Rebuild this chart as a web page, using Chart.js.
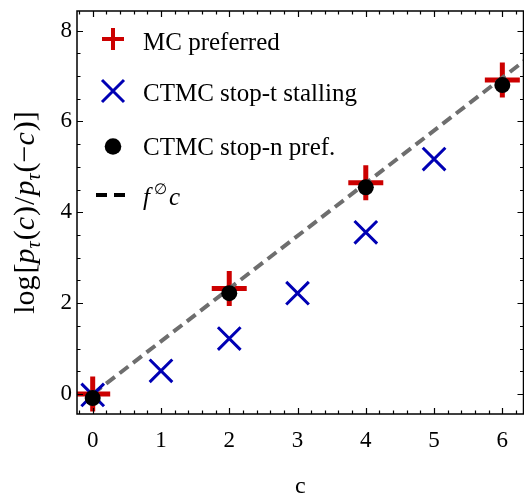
<!DOCTYPE html>
<html>
<head>
<meta charset="utf-8">
<script src="https://cdn.jsdelivr.net/npm/chart.js@4.4.0/dist/chart.umd.min.js"></script>
<style>
  html, body { margin: 0; padding: 0; background: #fff; }
  #wrap { width: 524px; height: 495px; position: relative; }
</style>
</head>
<body>
<div id="wrap"><canvas id="chart"></canvas></div>
<script>
// --- data ---
const mcX = [0, 2, 4, 6];
const mcY = [0, 2.32, 4.65, 6.91];

const stallX = [0, 1, 2, 3, 4, 5];
const stallY = [-0.02, 0.51, 1.22, 2.22, 3.56, 5.17];

const prefX = [0, 2, 4, 6];
const prefY = [-0.09, 2.22, 4.55, 6.80];

// f^∅ c reference line (slope ~1.16)
const lineX = [0, 6.5];
const lineY = [0, 7.54];

const xTicks = [0, 1, 2, 3, 4, 5, 6];
const yTicks = [0, 2, 4, 6, 8];

const RED = '#cc0000';
const BLUE = '#0000b4';
const SERIF = '"Liberation Serif", "DejaVu Serif", serif';

function toPoints(xs, ys) {
  return xs.map((x, i) => ({ x: x, y: ys[i] }));
}

// frame with inward major/minor ticks on all four sides
const framePlugin = {
  id: 'frame',
  afterDatasetsDraw(chart) {
    const { ctx, chartArea: a, scales } = chart;
    const sx = scales.x, sy = scales.y;
    ctx.save();
    ctx.strokeStyle = '#000';
    ctx.lineWidth = 1.2;
    ctx.beginPath();
    for (let v = -0.2; v <= sx.max + 1e-9; v += 0.2) {
      const major = Math.abs(v - Math.round(v)) < 1e-6;
      const len = major ? 6 : 3.5;
      const px = Math.round(sx.getPixelForValue(v)) + 0.5;
      ctx.moveTo(px, a.bottom); ctx.lineTo(px, a.bottom - len);
      ctx.moveTo(px, a.top); ctx.lineTo(px, a.top + len);
    }
    for (let v = 0; v <= sy.max + 1e-9; v += 0.5) {
      const major = Math.abs(v / 2 - Math.round(v / 2)) < 1e-6;
      const len = major ? 6 : 3.5;
      const py = Math.round(sy.getPixelForValue(v)) + 0.5;
      ctx.moveTo(a.left, py); ctx.lineTo(a.left + len, py);
      ctx.moveTo(a.right, py); ctx.lineTo(a.right - len, py);
    }
    ctx.stroke();
    ctx.lineWidth = 1.5;
    ctx.strokeRect(a.left, a.top, a.right - a.left, a.bottom - a.top);
    ctx.restore();
  }
};

// draws a run of [text, font, dy, dx] pieces starting at x
function drawPieces(ctx, pieces, x, y) {
  pieces.forEach(p => {
    ctx.font = p[1];
    x += p[3] || 0;
    ctx.fillText(p[0], x, y + (p[2] || 0));
    x += ctx.measureText(p[0]).width;
  });
}
function piecesWidth(ctx, pieces) {
  return pieces.reduce((w, p) => { ctx.font = p[1]; return w + (p[3] || 0) + ctx.measureText(p[0]).width; }, 0);
}

const textPlugin = {
  id: 'texts',
  afterDraw(chart) {
    const { ctx, chartArea: a } = chart;
    ctx.save();
    ctx.fillStyle = '#000';
    ctx.textBaseline = 'alphabetic';

    // x title
    ctx.font = '24px ' + SERIF;
    ctx.textAlign = 'center';
    ctx.fillText('c', (a.left + a.right) / 2, 493);
    ctx.textAlign = 'left';

    // y title: log[p_τ(c)/p_τ(−c)]
    const up = '30px ' + SERIF;
    const it = 'italic 30px ' + SERIF;
    const sub = 'italic 20px ' + SERIF;
    const yt = [
      ['log', up], ['[', up, 0, 2], ['p', it], ['τ', sub, 6], ['(', up, 0, 1], ['c', it], [')', up, 0, 1],
      ['/', up, 0, 1], ['p', it, 0, 1], ['τ', sub, 6], ['(', up, 0, 1], ['−', up], ['c', it], [')', up, 0, 1], [']', up]
    ];
    ctx.translate(34, (a.top + a.bottom) / 2);
    ctx.rotate(-Math.PI / 2);
    drawPieces(ctx, yt, -piecesWidth(ctx, yt) / 2, 0);
    const dpr = chart.currentDevicePixelRatio || 1;
    ctx.setTransform(dpr, 0, 0, dpr, 0, 0);

    // legend
    const mx = 113, tx = 143;
    const rows = [39, 91, 146.5, 195];
    const base = [50, 101, 154.5, 204.5];

    ctx.lineCap = 'butt';
    ctx.strokeStyle = RED; ctx.lineWidth = 4;
    ctx.beginPath();
    ctx.moveTo(mx - 11, rows[0]); ctx.lineTo(mx + 11, rows[0]);
    ctx.moveTo(mx, rows[0] - 11); ctx.lineTo(mx, rows[0] + 11);
    ctx.stroke();

    ctx.strokeStyle = BLUE; ctx.lineWidth = 3;
    ctx.beginPath();
    ctx.moveTo(mx - 11, rows[1] - 11); ctx.lineTo(mx + 11, rows[1] + 11);
    ctx.moveTo(mx - 11, rows[1] + 11); ctx.lineTo(mx + 11, rows[1] - 11);
    ctx.stroke();

    ctx.fillStyle = '#000';
    ctx.beginPath();
    ctx.arc(mx, rows[2], 8.3, 0, Math.PI * 2);
    ctx.fill();

    ctx.strokeStyle = '#000'; ctx.lineWidth = 4;
    ctx.beginPath();
    ctx.moveTo(96, rows[3]); ctx.lineTo(107, rows[3]);
    ctx.moveTo(114, rows[3]); ctx.lineTo(125, rows[3]);
    ctx.stroke();

    const lf = '25px ' + SERIF;
    ctx.font = lf;
    ctx.fillText('MC preferred', tx, base[0]);
    ctx.fillText('CTMC stop-t stalling', tx, base[1]);
    ctx.fillText('CTMC stop-n pref.', tx, base[2]);
    drawPieces(ctx, [['f', 'italic 25px ' + SERIF], ['∅', '15px ' + SERIF, -11, 4], ['c', 'italic 25px ' + SERIF, 0, 2]], tx, base[3]);

    ctx.restore();
  }
};

const tickFont = { family: SERIF, size: 23 };

function noPad(s) {
  s.paddingLeft = 0; s.paddingRight = 0; s.paddingTop = 0; s.paddingBottom = 0;
}

new Chart(document.getElementById('chart'), {
  type: 'scatter',
  data: {
    datasets: [
      {
        label: 'CTMC stop-n pref.',
        data: toPoints(prefX, prefY),
        pointStyle: 'circle',
        pointRadius: 8,
        backgroundColor: '#000',
        borderWidth: 0,
        order: 0
      },
      {
        label: 'CTMC stop-t stalling',
        data: toPoints(stallX, stallY),
        pointStyle: 'crossRot',
        pointRadius: 16,
        borderColor: BLUE,
        backgroundColor: BLUE,
        borderWidth: 3,
        order: 1
      },
      {
        label: 'f∅c',
        data: toPoints(lineX, lineY),
        showLine: true,
        pointRadius: 0,
        borderColor: '#6e6e6e',
        borderWidth: 4,
        borderDash: [11, 6],
        order: 2
      },
      {
        label: 'MC preferred',
        data: toPoints(mcX, mcY),
        pointStyle: 'cross',
        pointRadius: 17.5,
        borderColor: RED,
        backgroundColor: RED,
        borderWidth: 5,
        order: 3
      }
    ]
  },
  options: {
    responsive: true,
    maintainAspectRatio: false,
    animation: false,
    events: [],
    layout: { autoPadding: false, padding: { top: 11, right: 0.5, left: 0, bottom: 0 } },
    plugins: {
      legend: { display: false },
      tooltip: { enabled: false }
    },
    scales: {
      x: {
        type: 'linear',
        min: -0.23,
        max: 6.31,
        grid: { display: false, drawTicks: false },
        border: { display: false },
        ticks: { font: tickFont, color: '#000', padding: 13, includeBounds: false },
        afterBuildTicks: s => { s.ticks = xTicks.map(v => ({ value: v })); },
        afterFit: s => { s.height = 81; noPad(s); }
      },
      y: {
        type: 'linear',
        min: -0.44,
        max: 8.43,
        grid: { display: false, drawTicks: false },
        border: { display: false },
        ticks: { font: tickFont, color: '#000', padding: 5, includeBounds: false },
        afterBuildTicks: s => { s.ticks = yTicks.map(v => ({ value: v })); },
        afterFit: s => { s.width = 77; noPad(s); }
      }
    }
  },
  plugins: [framePlugin, textPlugin]
});
</script>
</body>
</html>
